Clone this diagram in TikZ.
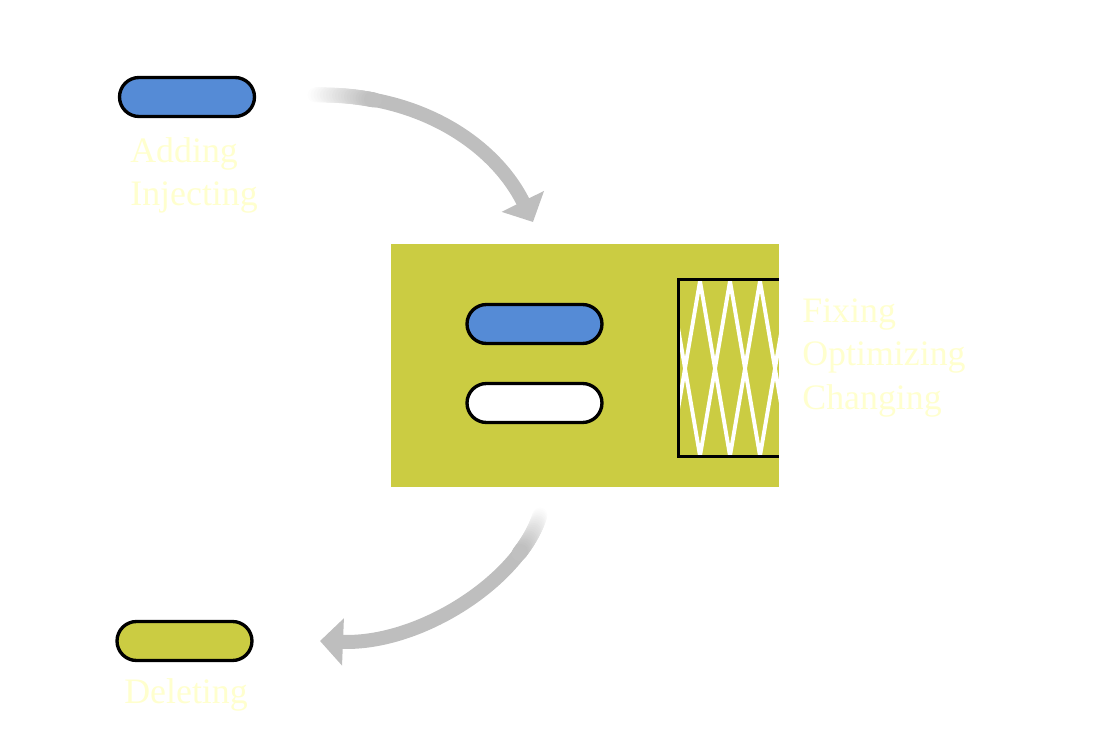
\documentclass[tikz,border=0pt]{standalone}
\usepackage{fontspec}
\setmainfont{Liberation Serif}
\usetikzlibrary{arrows.meta}

\definecolor{pillblue}{RGB}{85,139,214}
\definecolor{olive}{RGB}{203,204,66}
\definecolor{arcgray}{RGB}{190,190,190}
\definecolor{palelabel}{RGB}{255,255,206}

\begin{document}
\begin{tikzpicture}[x=0.02cm, y=-0.02cm,
    pill/.style={draw=black, line width=1.9pt, rounded corners=0.39cm,
      minimum width=2.7cm, minimum height=0.78cm, inner sep=0pt},
    tag/.style={text=palelabel, align=left, inner sep=0pt, anchor=north west,
      font=\fontsize{20.4}{24.9}\selectfont},
    flow/.style={draw=arcgray, line width=0.28cm,
      -{Triangle[length=0.46cm, width=0.92cm]}},
    fadebit/.style={line width=0.30cm, line cap=round}]
  \useasboundingbox (0,0) rectangle (1093,736);

  % the block in the middle
  \node[fill=olive, minimum width=7.76cm, minimum height=4.86cm, inner sep=0pt] (stage) at (585,365.5) {};
  \node[pill, fill=pillblue] (midblue) at (534.5,324) {};
  \node[pill, fill=white] (midwhite) at (534.5,403) {};

  % lattice box
  \begin{scope}
    \clip (679,280.5) rectangle (779,456.5);
    \foreach \k in {-1,...,3} {
      \draw[white, line width=2.2pt] ({700+30*\k},281) -- ({730+30*\k},456);
      \draw[white, line width=2.2pt] ({730+30*\k},281) -- ({700+30*\k},456);
    }
  \end{scope}
  \draw[line width=1.9pt] (779,279.5) -- (678.5,279.5) -- (678.5,456.5) -- (779,456.5);

  \node[tag] (fixtext) at (802,298) {Fixing\\Optimizing\\Changing};

  % incoming
  \node[pill, fill=pillblue] (addpill) at (187,97) {};
  \node[tag] (addtext) at (130,137) {Adding\\Injecting};
  \coordinate (addtail) at (315,95);
  \coordinate (intip) at (533,222);
  \draw[flow] (addtail) .. controls (420,93) and (495,145) .. (intip);
  \path (addtail) .. controls (420,93) and (495,145) .. (intip)
    \foreach \i [evaluate=\i as \t using \i/100] in {0,...,20} {coordinate[pos=\t] (ua\i)};
  \foreach \i [evaluate=\i as \pct using 5*\i+2.5, evaluate=\i as \j using int(\i+1)] in {0,...,19}
    \draw[fadebit, arcgray!\pct!white] (ua\i) -- (ua\j);

  % outgoing
  \node[pill, fill=olive] (delpill) at (184.5,641) {};
  \node[tag] (deltext) at (124,678) {Deleting};
  \coordinate (outtail) at (540,515);
  \coordinate (outtip) at (320,641);
  \draw[flow] (outtail) .. controls (520,580) and (420,645) .. (outtip);
  \path (outtail) .. controls (520,580) and (420,645) .. (outtip)
    \foreach \i [evaluate=\i as \t using \i/100] in {0,...,20} {coordinate[pos=\t] (ub\i)};
  \foreach \i [evaluate=\i as \pct using 5*\i+2.5, evaluate=\i as \j using int(\i+1)] in {0,...,19}
    \draw[fadebit, arcgray!\pct!white] (ub\i) -- (ub\j);
\end{tikzpicture}
\end{document}
